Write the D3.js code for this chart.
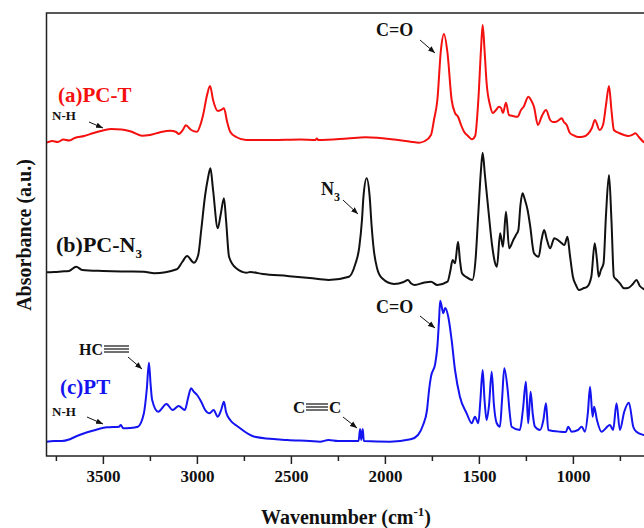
<!DOCTYPE html>
<html>
<head>
<meta charset="utf-8">
<script src="https://cdn.jsdelivr.net/npm/d3@7"></script>
<style>
  body { margin: 0; background: #fff; }
  svg text { font-family: "Liberation Serif", "Times New Roman", serif; font-weight: bold; }
</style>
</head>
<body>
<div id="chart"></div>
<script>
// 1: DATA  ([wavenumber cm-1, absorbance a.u. incl. stacking offset])
const pcT = [
  [3800,313.3],[3770,315],[3740,314],[3710,316.5],[3680,315.5],[3650,318],[3600,320],[3550,323],[3500,325.5],
  [3456,327],[3400,326.5],[3350,324.5],[3293,320.3],[3250,321],[3200,323.5],[3142,325.3],[3110,324],[3097,322],
  [3075,326],[3059,330.7],[3030,326],[2999,324.3],[2980,332],[2967,341],[2946,361],[2930,370],[2914,356],
  [2889,345],[2872,346],[2856,347.7],[2839,334],[2823,324.3],[2791,319],[2738,316],[2600,316],[2450,316.5],
  [2370,316],[2362,317.5],[2355,316],[2200,317.5],[2103,318.7],[1950,316.5],[1863,314.3],[1819,313.3],
  [1787,315],[1755,321],[1739,336],[1721,356],[1702,406],[1686,422],[1667,403],[1645,356],[1627,343],
  [1611,339.3],[1595,331],[1579,324.3],[1558,320],[1538,316.7],[1520,320],[1503,356],[1489,406],[1480,431],
  [1470,406],[1459,373],[1441,351],[1426,343],[1409,346],[1393,349.3],[1382,348],[1372,343],[1356,353.3],
  [1340,341],[1319,340],[1295,339.3],[1276,346],[1262,349.3],[1237,359.3],[1223,356],[1207,349.3],[1186,331],
  [1165,340],[1143,346],[1121,336],[1106,334],[1088,334.3],[1074,336],[1059,337.7],[1048,334],[1033,331],
  [1016,323],[1000,321],[973,319],[947,319.3],[920,322],[899,328],[883,336],[858,326],[840,331],[824,351],
  [808,370],[795,346],[782,326],[755,323],[728,321],[707,320],[686,321],[667,322.7],[649,319],[623,314],[600,313]
];

const pcN3 = [
  [3800,183.7],[3760,184],[3720,184.5],[3680,185],[3642,189.3],[3610,186],[3500,185],[3400,184.5],[3282,184.3],
  [3227,182.7],[3107,186.7],[3078,194],[3052,200],[3016,193.3],[2993,201],[2977,226],[2956,261],[2943,276],
  [2928,287.7],[2914,266],[2889,227.7],[2874,241],[2856,257.7],[2845,236],[2829,199.3],[2791,187.7],
  [2736,183.3],[2717,184],[2650,182],[2518,180],[2400,178],[2300,176],[2191,179.3],[2159,191],[2136,209.3],
  [2122,236],[2114,259.3],[2097,277.7],[2081,259.3],[2071,231],[2059,206],[2042,188],[2015,177.7],[1951,172],
  [1900,174],[1878,176],[1860,172.5],[1841,171],[1790,173.5],[1755,174.3],[1721,171],[1667,174.3],[1651,186],
  [1640,196],[1627,192.7],[1611,214.3],[1601,196],[1590,182.7],[1569,179.3],[1535,176],[1518,196],[1503,243],
  [1489,286],[1480,303.3],[1468,281],[1448,243],[1430,211],[1414,193],[1404,189.3],[1387,222.7],[1372,209.3],
  [1356,244.3],[1339,207.7],[1317,216],[1303,221],[1290,226],[1279,251],[1268,262.7],[1255,256],[1241,246],
  [1228,231],[1207,202.7],[1182,199.3],[1167,216],[1153,226],[1138,216],[1121,207.7],[1099,217.7],[1080,216],
  [1059,212.7],[1045,211],[1029,219.3],[1016,201],[1000,179.3],[984,171],[968,166],[941,168],[924,169.3],
  [902,179.3],[884,212.7],[872,196],[863,179.3],[851,186],[837,192.7],[824,241],[808,281],[795,236],[782,179.3],
  [766,176],[750,172.7],[728,167.7],[707,168],[681,172],[662,176],[644,170],[623,167],[600,166]
];

const pt = [
  [3800,14.3],[3760,15],[3718,15],[3680,16.5],[3650,19],[3610,22],[3550,25.5],[3478,28.7],[3413,29.3],
  [3405,31],[3392,27.7],[3355,28],[3314,29.3],[3282,42.7],[3267,66],[3255,93.3],[3246,71],[3238,56],
  [3206,44.3],[3162,52],[3129,46],[3097,50],[3064,46],[3047,58],[3031,67.7],[3015,64],[2999,61],[2977,54.3],
  [2956,46],[2933,42.7],[2911,46],[2889,39.3],[2871,46],[2856,54.3],[2845,44],[2823,36],[2781,29.3],
  [2693,19.3],[2518,16],[2400,15],[2345,14.3],[2300,16],[2250,15],[2169,15],[2140,15],[2132,27],[2126,16],
  [2118,27],[2112,15],[1973,14.3],[1863,16.7],[1824,21],[1797,31],[1776,46],[1765,66],[1755,79.3],[1732,92.7],
  [1721,109.3],[1712,136],[1706,155.3],[1689,142.7],[1680,148],[1663,139.3],[1645,116],[1627,86],[1601,59.3],
  [1565,42.7],[1538,32.7],[1521,39.3],[1503,32.7],[1492,56],[1480,86],[1470,56],[1459,36],[1446,51],
  [1432,84.3],[1420,51],[1405,32.7],[1388,29.3],[1377,56],[1365,87.7],[1347,66],[1335,41],[1326,29.3],
  [1282,26],[1266,46],[1250,74.3],[1238,32.7],[1225,64.3],[1213,41],[1202,29.3],[1175,26],[1157,36],
  [1143,52.7],[1131,26],[1069,24.3],[1037,24],[1025,29.3],[1007,24.3],[973,26],[953,29.3],[936,24.3],[920,44],
  [909,69.3],[895,39.3],[887,49.3],[872,36],[848,24.3],[803,31],[786,26],[768,52.7],[750,26],[727,44.3],
  [702,53.3],[679,29.3],[662,24.3],[623,21],[600,20]
];

const seriesNames = ["(a)PC-T", "(b)PC-N3", "(c)PT"];
const seriesColors = ["#f51010", "#111111", "#1414f0"];
const seriesData = [pcT, pcN3, pt];
const majorTicks = [3500, 3000, 2500, 2000, 1500, 1000];
const minorTicks = [3750, 3250, 2750, 2250, 1750, 1250, 750];

// 2: LAYOUT
const W = 644, H = 528;
const margin = { top: 13, left: 46.5 };
const width = 639.2;   // plot runs past the right edge of the picture
const height = 443;

const svg = d3.select("#chart").append("svg")
    .attr("width", W)
    .attr("height", H);

const g = svg.append("g")
    .attr("transform", `translate(${margin.left},${margin.top})`);

// 3: SCALES
const xScale = d3.scaleLinear().domain([3800, 400]).range([0, width]);
const yScale = d3.scaleLinear().domain([0, 443]).range([height, 0]);

// 4: LINES
const line = d3.line()
    .x(d => xScale(d[0]))
    .y(d => yScale(d[1]))
    .curve(d3.curveMonotoneX);

seriesData.forEach((s, i) => {
    g.append("path")
        .datum(s)
        .attr("fill", "none")
        .attr("stroke", seriesColors[i])
        .attr("stroke-width", 2)
        .attr("stroke-linejoin", "round")
        .attr("d", line);
});

// 5: FRAME + AXIS
g.append("path")
    .attr("d", `M${width},0H0V${height}H${width}`)
    .attr("fill", "none")
    .attr("stroke", "#222")
    .attr("stroke-width", 1.5);

const xAxis = g.append("g")
    .attr("transform", `translate(0,${height})`)
    .call(d3.axisBottom(xScale).tickValues(majorTicks).tickSize(8).tickPadding(6).tickFormat(d3.format("d")));
xAxis.select(".domain").remove();
xAxis.selectAll(".tick line").attr("stroke", "#222").attr("stroke-width", 1.5);
xAxis.selectAll(".tick text")
    .attr("fill", "#111")
    .style("font-size", "17px")
    .style("font-family", "'Liberation Serif', serif")
    .style("font-weight", "bold");

g.append("g")
    .attr("transform", `translate(0,${height})`)
    .call(d3.axisBottom(xScale).tickValues(minorTicks).tickSize(5).tickFormat(""))
    .call(a => a.select(".domain").remove())
    .call(a => a.selectAll(".tick line").attr("stroke", "#222").attr("stroke-width", 1.5));

// 6: AXIS TITLES
const xTitle = svg.append("text")
    .attr("x", 346)
    .attr("y", 524)
    .attr("text-anchor", "middle")
    .style("font-size", "20px")
    .attr("fill", "#111");
xTitle.append("tspan").text("Wavenumber (cm");
xTitle.append("tspan").attr("dy", -8).style("font-size", "13px").text("-1");
xTitle.append("tspan").attr("dy", 8).text(")");

svg.append("text")
    .attr("transform", "rotate(-90)")
    .attr("x", -235)
    .attr("y", 31)
    .attr("text-anchor", "middle")
    .style("font-size", "20px")
    .attr("fill", "#111")
    .text("Absorbance (a.u.)");

// 7: ANNOTATIONS
svg.append("defs").append("marker")
    .attr("id", "arrow")
    .attr("viewBox", "0 0 10 10")
    .attr("refX", 10).attr("refY", 5)
    .attr("markerWidth", 7).attr("markerHeight", 7)
    .attr("markerUnits", "userSpaceOnUse")
    .attr("orient", "auto")
    .append("path")
    .attr("d", "M0,1L10,5L0,9Z")
    .attr("fill", "#111");

function arrow(x1, y1, x2, y2) {
    svg.append("line")
        .attr("x1", x1).attr("y1", y1).attr("x2", x2).attr("y2", y2)
        .attr("stroke", "#111").attr("stroke-width", 1)
        .attr("marker-end", "url(#arrow)");
}

function label(x, y, txt, size, color) {
    return svg.append("text")
        .attr("x", x).attr("y", y)
        .style("font-size", size + "px")
        .attr("fill", color || "#111")
        .text(txt);
}

function tripleBar(x1, x2, y) {
    [-3, 0, 3].forEach(dy => {
        svg.append("line")
            .attr("x1", x1).attr("x2", x2)
            .attr("y1", y + dy).attr("y2", y + dy)
            .attr("stroke", "#111").attr("stroke-width", 1.2);
    });
}

// series labels
label(58, 102, seriesNames[0], 21, seriesColors[0]);
const bLabel = svg.append("text").attr("x", 56).attr("y", 252)
    .style("font-size", "22px").attr("fill", seriesColors[1]);
bLabel.append("tspan").text("(b)PC-N");
bLabel.append("tspan").attr("dy", 6).style("font-size", "13px").text("3");
label(60, 394, seriesNames[2], 21, seriesColors[2]);

// red
label(52, 120, "N-H", 13);
arrow(89, 122, 103, 128);
label(376, 36, "C=O", 18);
arrow(420, 40, 435, 53);

// black
const n3 = svg.append("text").attr("x", 321).attr("y", 195)
    .style("font-size", "18px").attr("fill", "#111");
n3.append("tspan").text("N");
n3.append("tspan").attr("dy", 6).style("font-size", "12px").text("3");
arrow(343, 200, 358, 214);

// blue
label(376, 313, "C=O", 18);
arrow(420, 316, 435, 328);
label(79, 355, "HC", 16);
tripleBar(104, 129, 349);
arrow(128, 357, 142, 369);
label(52, 416, "N-H", 13);
arrow(87, 417, 103, 424);
label(293, 413, "C", 17);
tripleBar(306, 328, 407);
label(329, 413, "C", 17);
arrow(343, 417, 357, 428);
</script>
</body>
</html>
